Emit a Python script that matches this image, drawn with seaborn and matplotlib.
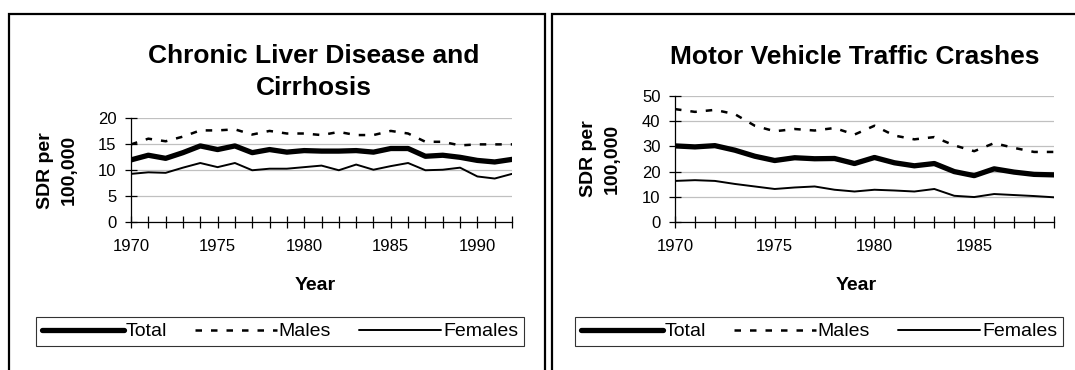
import matplotlib
matplotlib.use("Agg")
import matplotlib.pyplot as plt
import pandas as pd
import seaborn as sns
from matplotlib.patches import Rectangle

# ---------------- data ----------------
liver_years = list(range(1970, 1993))
liver_total = [12.0, 12.9, 12.3, 13.4, 14.7, 14.0, 14.7, 13.4, 14.0, 13.5, 13.8, 13.7,
               13.7, 13.8, 13.5, 14.2, 14.2, 12.7, 12.9, 12.5, 11.9, 11.6, 12.1]
liver_males = [15.0, 16.1, 15.6, 16.5, 17.7, 17.7, 17.9, 16.9, 17.6, 17.1, 17.1, 16.8,
               17.4, 16.8, 16.8, 17.6, 17.1, 15.5, 15.5, 14.8, 15.0, 15.0, 15.0]
liver_females = [9.3, 9.6, 9.5, 10.5, 11.4, 10.6, 11.4, 10.0, 10.3, 10.3, 10.6, 10.9,
                 10.0, 11.1, 10.1, 10.8, 11.4, 10.0, 10.1, 10.5, 8.8, 8.4, 9.3]

mv_years = list(range(1970, 1990))
mv_total = [30.2, 29.8, 30.3, 28.5, 26.1, 24.4, 25.5, 25.1, 25.2, 23.2, 25.6, 23.5,
            22.3, 23.2, 20.0, 18.4, 21.1, 19.8, 18.9, 18.7]
mv_males = [44.8, 43.7, 44.5, 42.8, 38.2, 36.0, 36.9, 36.3, 37.3, 34.7, 38.2, 34.3,
            32.8, 33.7, 30.4, 28.1, 31.3, 29.4, 27.8, 27.8]
mv_females = [16.3, 16.6, 16.3, 15.1, 14.1, 13.1, 13.7, 14.1, 12.8, 12.1, 12.8, 12.5,
              12.1, 13.1, 10.4, 9.9, 11.1, 10.7, 10.3, 9.8]

series_names = ["Total", "Males", "Females"]
liver_title = "Chronic Liver Disease and\nCirrhosis"
mv_title = "Motor Vehicle Traffic Crashes"
y_label = "SDR per\n100,000"
x_label = "Year"

# ---------------- style ----------------
sns.set_style("white")
plt.rcParams["font.family"] = ["Liberation Sans", "DejaVu Sans"]
plt.rcParams["text.color"] = "black"

W, H = 1075, 370
fig = plt.figure(figsize=(W / 100, H / 100), dpi=100)


def fx(px):
    return px / W


def fy(py):
    return 1 - py / H


line_styles = {
    "Total": dict(lw=3.8, ls="-"),
    "Males": dict(lw=1.8, ls=(0, (2.6, 3.6))),
    "Females": dict(lw=1.4, ls="-"),
}


def panel(rect_px, years, total, males, females, ymax, ystep, title, title_cx, title_cy,
          ylab_cx, year_cx, leg_cx, frame_px):
    x0, y_top, x1, y_bot = rect_px
    ax = fig.add_axes([fx(x0), fy(y_bot), (x1 - x0) / W, (y_bot - y_top) / H])
    df = pd.DataFrame({"Year": years, "Total": total, "Males": males, "Females": females})
    for name in series_names:
        st = line_styles[name]
        sns.lineplot(data=df, x="Year", y=name, ax=ax, color="black", lw=st["lw"],
                     linestyle=st["ls"], legend=False, label=name)
    ax.set_xlim(years[0], years[-1])
    ax.set_ylim(0, ymax)
    ax.set_yticks(list(range(0, ymax + 1, ystep)))
    ax.set_xticks(years)
    ax.set_xticklabels([str(y) if (y - years[0]) % 5 == 0 else "" for y in years])
    ax.tick_params(axis="both", direction="inout", length=9, width=0.9, color="black",
                   labelsize=12, labelcolor="black", bottom=True, left=True)
    ax.tick_params(axis="x", pad=8)
    ax.tick_params(axis="y", pad=6)
    ax.set_axisbelow(True)
    ax.yaxis.grid(True, color="#c0c0c0", lw=0.9)
    ax.xaxis.grid(False)
    sns.despine(ax=ax)
    for s in ("left", "bottom"):
        ax.spines[s].set_color("black")
        ax.spines[s].set_linewidth(0.9)
    ax.set_xlabel("")
    ax.set_ylabel("")
    ax.patch.set_alpha(0)

    fig.text(fx(title_cx), fy(title_cy), title, ha="center", va="center", fontsize=19,
             fontweight="bold", linespacing=1.45, color="black")
    fig.text(fx(ylab_cx), fy((y_top + y_bot) / 2), y_label, ha="center", va="center",
             rotation=90, fontsize=14, fontweight="bold", linespacing=1.55, color="black")
    fig.text(fx(year_cx), fy(285), x_label, ha="center", va="center", fontsize=14,
             fontweight="bold", color="black")

    handles = ax.get_lines()[:3]
    leg = fig.legend(handles, series_names, loc="center",
                     bbox_to_anchor=(fx(leg_cx), fy(331.5)), ncol=3, frameon=True,
                     fancybox=False, edgecolor="black", fontsize=14, handlelength=4.2,
                     handletextpad=0.1, columnspacing=1.45, borderpad=0.3,
                     borderaxespad=0)
    leg.get_frame().set_linewidth(0.8)

    fxa, fya, fxb = frame_px
    fig.patches.append(Rectangle((fx(fxa), -0.1), (fxb - fxa) / W, fy(fya) + 0.1,
                                 transform=fig.transFigure, fill=False, ec="black",
                                 lw=1.6))
    return ax


panel((131, 118.5, 512, 222), liver_years, liver_total, liver_males, liver_females,
      20, 5, liver_title, 314, 72, 57.5, 315, 280, (9, 14, 545))
panel((675, 96, 1054, 222), mv_years, mv_total, mv_males, mv_females,
      50, 10, mv_title, 855, 57, 600.5, 856, 819, (552, 14, 1090))

fig.savefig("out.png", dpi=100, facecolor="white")
